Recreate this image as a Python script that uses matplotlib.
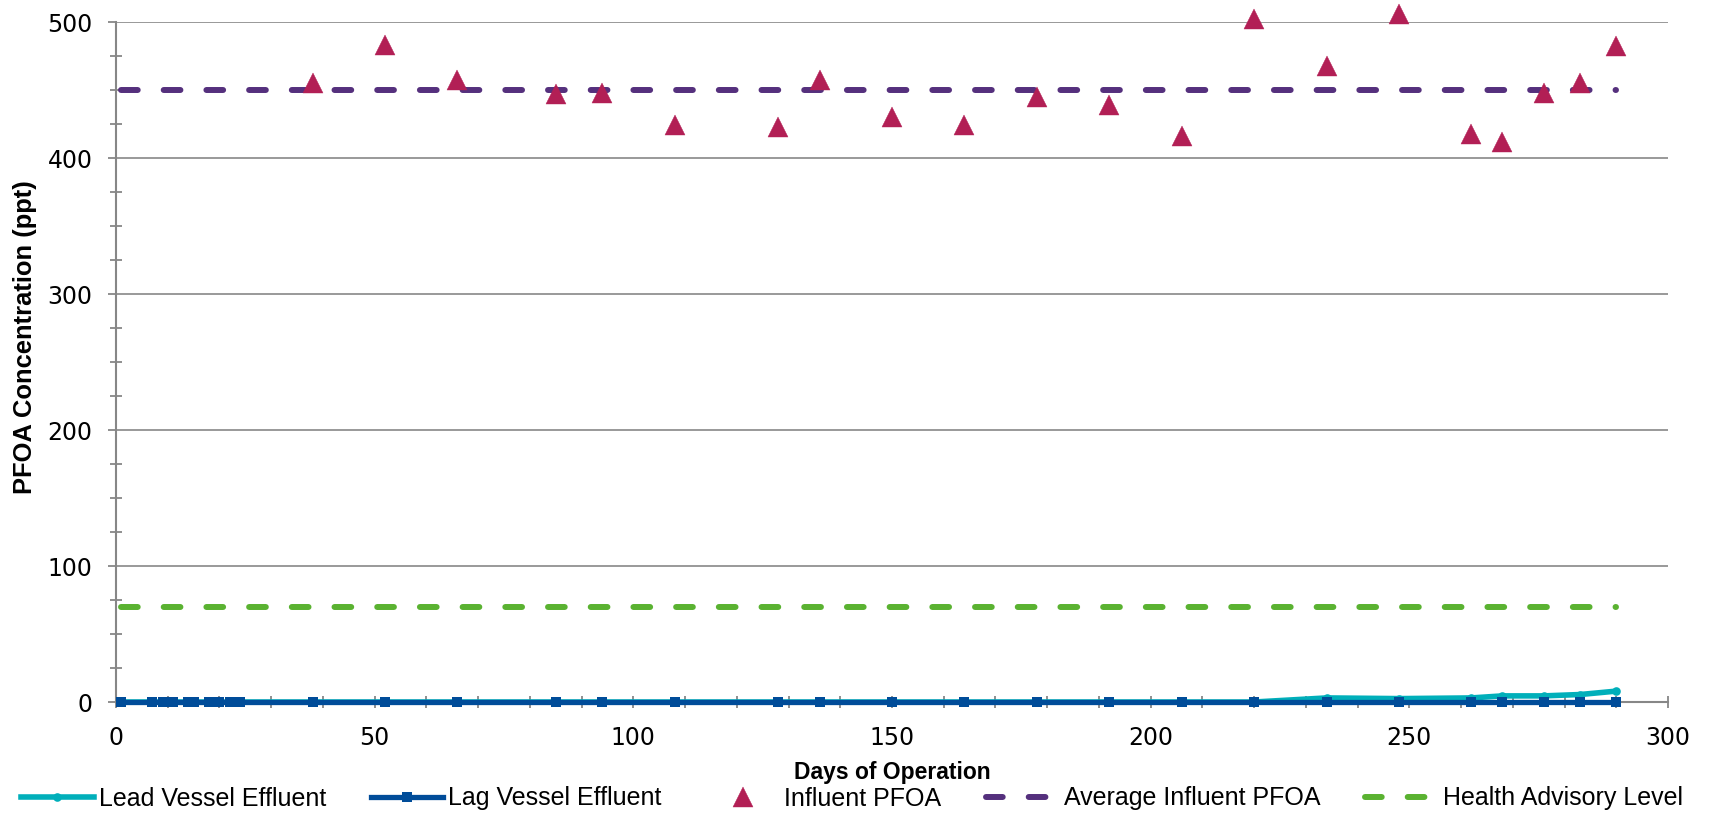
import matplotlib
matplotlib.use("Agg")
import matplotlib.pyplot as plt
from matplotlib.ticker import MultipleLocator

# ── sampling days and measured concentrations (ppt)
days = [1, 7, 9, 11, 14, 15, 18, 20, 22, 24, 38, 52, 66, 85, 94, 108,
        128, 136, 150, 164, 178, 192, 206, 220, 234, 248, 262, 268, 276, 283, 290]
lead_effluent = [0, 0, 0, 0, 0, 0, 0, 0, 0, 0, 0, 0, 0, 0, 0, 0,
                 0, 0, 0, 0, 0, 0, 0, 0, 3, 2.5, 3, 4.5, 4.5, 5.5, 8]
lag_effluent = [0, 0, 0, 0, 0, 0, 0, 0, 0, 0, 0, 0, 0, 0, 0, 0,
                0, 0, 0, 0, 0, 0, 0, 0, 0, 0, 0, 0, 0, 0, 0]

influent_days = [38, 52, 66, 85, 94, 108, 128, 136, 150, 164, 178, 192,
                 206, 220, 234, 248, 262, 268, 276, 283, 290]
influent_pfoa = [455, 483, 457, 447, 448, 424, 423, 457, 430, 424, 445, 439,
                 416, 502, 468, 506, 418, 412, 448, 455, 482]

ref_days = [1, 290]
avg_influent = [450, 450]
health_advisory = [70, 70]

# colours
C_LEAD = "#00AFBA"
C_LAG = "#004C99"
C_INF = "#B21F55"
C_AVG = "#55307D"
C_HAL = "#5AB231"
C_AXIS = "#878787"

LEGEND_FONT = {"family": "Liberation Sans", "size": 18}

fig = plt.figure(figsize=(17.1, 8.15), dpi=100)
ax = fig.add_axes([116 / 1710, 113 / 815, 1552 / 1710, 680 / 815])

dash_lw = 4.3
dash_pattern = (2.8, 4.35)

ax.plot(days, lead_effluent, color=C_LEAD, lw=4.0, marker="o", ms=6.2,
        mew=0, label="Lead Vessel Effluent", zorder=4, clip_on=False)
ax.plot(days, lag_effluent, color=C_LAG, lw=3.8, marker="s", ms=7,
        mew=0, label="Lag Vessel Effluent", zorder=5, clip_on=False)
ax.plot(influent_days, influent_pfoa, linestyle="none", marker="^", ms=15,
        color=C_INF, mec=C_INF, mew=0.3, label="Influent PFOA", zorder=6,
        clip_on=False)
ax.plot(ref_days, avg_influent, color=C_AVG, lw=dash_lw, dashes=dash_pattern,
        dash_capstyle="round", label="Average Influent PFOA", zorder=3)
ax.plot(ref_days, health_advisory, color=C_HAL, lw=dash_lw, dashes=dash_pattern,
        dash_capstyle="round", label="Health Advisory Level", zorder=3)

ax.set_xlim(0, 300)
ax.set_ylim(0, 500)
ax.xaxis.set_major_locator(MultipleLocator(50))
ax.xaxis.set_minor_locator(MultipleLocator(10))
ax.yaxis.set_major_locator(MultipleLocator(100))
ax.yaxis.set_minor_locator(MultipleLocator(25))

ax.grid(True, axis="y", which="major", color=C_AXIS, lw=1.2)
ax.set_axisbelow(True)
for side in ("top", "right"):
    ax.spines[side].set_visible(False)
for side in ("left", "bottom"):
    ax.spines[side].set_color(C_AXIS)
    ax.spines[side].set_linewidth(1.5)

ax.tick_params(axis="x", which="both", direction="inout", length=8.6,
               width=1.3, color=C_AXIS)
ax.tick_params(axis="x", which="major", labelsize=17, pad=13)
ax.tick_params(axis="y", which="major", direction="out", length=5.5,
               width=1.3, color=C_AXIS, labelsize=17, pad=11.5)
ax.tick_params(axis="y", which="minor", direction="inout", length=8.6,
               width=1.3, color=C_AXIS)

ax.set_xlabel("Days of Operation", family="Liberation Sans", fontweight="bold",
              fontsize=16.5)
ax.xaxis.label.set_va("baseline")
ax.xaxis.set_label_coords(0.5, -(779 - 702) / 680)

ax.set_ylabel("PFOA Concentration (ppt)", family="Liberation Sans",
              fontweight="bold", fontsize=18.4)
ax.yaxis.set_label_coords((37 - 116) / 1552, (702 - 337) / 680)

# legend row along the bottom edge
fig.legend(loc="center", bbox_to_anchor=(852 / 1710, 1 - 798.5 / 815),
           ncol=5, frameon=False, prop=LEGEND_FONT, handlelength=2.9,
           handletextpad=0.2, columnspacing=1.8, borderpad=0,
           borderaxespad=0, numpoints=1)

fig.savefig("out.png", dpi=100)
